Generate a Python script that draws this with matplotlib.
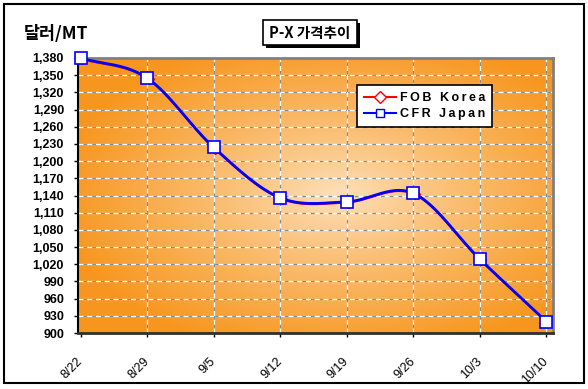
import matplotlib
matplotlib.use("Agg")
import matplotlib.pyplot as plt
import numpy as np
from matplotlib.patches import Rectangle
from matplotlib.lines import Line2D

# data
dates = ["8/22", "8/29", "9/5", "9/12", "9/19", "9/26", "10/3", "10/10"]
cfr_japan = [1380, 1345, 1224, 1136, 1129, 1144, 1029, 920]
fob_korea = [1378, 1343, 1222, 1134, 1127, 1142, 1027, 919]
yticks = list(range(900, 1381, 30))
legend_labels = ["FOB Korea", "CFR Japan"]

kr = ["Noto Sans CJK KR", "DejaVu Sans"]
lat = ["Liberation Sans", "DejaVu Sans"]


def smooth(xs, ys, n=30):
    # catmull-rom curve through the points, only for drawing the line smooth
    xs = np.asarray(xs, float)
    ys = np.asarray(ys, float)
    px = np.r_[2 * xs[0] - xs[1], xs, 2 * xs[-1] - xs[-2]]
    py = np.r_[2 * ys[0] - ys[1], ys, 2 * ys[-1] - ys[-2]]
    ox, oy = [], []
    t = np.linspace(0, 1, n)
    for i in range(1, len(px) - 2):
        for p, out in ((px, ox), (py, oy)):
            p0, p1, p2, p3 = p[i - 1], p[i], p[i + 1], p[i + 2]
            out.extend(0.5 * ((2 * p1) + (-p0 + p2) * t
                              + (2 * p0 - 5 * p1 + 4 * p2 - p3) * t ** 2
                              + (-p0 + 3 * p1 - 3 * p2 + p3) * t ** 3))
    return np.array(ox), np.array(oy)


W, H = 588, 389
fig = plt.figure(figsize=(W / 100, H / 100), dpi=100)
fig.patch.set_facecolor("white")

ax = fig.add_axes([78 / W, 1 - 333 / H, 475 / W, 275 / H])
x = np.arange(len(dates))
ax.set_xlim(-0.04, 7.1)
ax.set_ylim(900, 1380)

# radial orange gradient background
gx, gy = np.meshgrid(np.linspace(-1.1, 0.9, 300), np.linspace(-1, 1, 200))
d = np.clip(np.sqrt(gx ** 2 + gy ** 2) / 1.2, 0, 1) ** 0.85
c_in = np.array([253, 226, 190]) / 255
c_out = np.array([247, 150, 30]) / 255
img = c_in[None, None, :] * (1 - d[..., None]) + c_out[None, None, :] * d[..., None]
ax.imshow(img, extent=[-0.04, 7.1, 900, 1380], aspect="auto", zorder=0)

# dashed gridlines: white with grey gaps
for yv in yticks[1:-1]:
    ax.axhline(yv, color="white", lw=0.9, zorder=1)
    ax.axhline(yv, color="#8a8a8a", lw=0.9, ls=(3, (3, 4)), zorder=1)
for xv in x[1:]:
    ax.axvline(xv, color="white", lw=0.9, zorder=1)
    ax.axvline(xv, color="#8a8a8a", lw=0.9, ls=(3, (3, 4)), zorder=1)

sx, sy = smooth(x, fob_korea)
ax.plot(sx, sy, color="red", lw=0.8, zorder=2)
ax.plot(x + 0.02, fob_korea, ls="none", marker="D", ms=5, mfc="white",
        mec="red", mew=1, zorder=2)
sx, sy = smooth(x, cfr_japan)
ax.plot(sx, sy, color="blue", lw=2, zorder=3)
ax.plot(x, cfr_japan, ls="none", marker="s", ms=8, mfc="white",
        mec="blue", mew=1.2, zorder=4, clip_on=False)

ax.set_yticks(yticks)
ax.set_yticklabels([f"{v:,}" for v in yticks], fontfamily=lat,
                   fontweight="bold", fontsize=9)
ax.set_xticks(x)
ax.set_xticklabels(dates, fontfamily=lat, fontsize=9, rotation=45,
                   ha="right", va="center", rotation_mode="anchor")
ax.tick_params(axis="y", length=3, width=1, pad=7)
ax.tick_params(axis="x", length=3, width=1, pad=16)

for s in ("top", "right"):
    ax.spines[s].set_color("#808080")
    ax.spines[s].set_linewidth(2)
ax.spines["left"].set_color("black")
ax.spines["left"].set_linewidth(1.5)
ax.spines["bottom"].set_color("#303030")
ax.spines["bottom"].set_linewidth(2)

# legend (letters spread a little, like the original)
handles = [
    Line2D([], [], color="red", lw=1.5, marker="D", ms=6, mfc="white", mec="red"),
    Line2D([], [], color="blue", lw=1.5, marker="s", ms=6, mfc="white", mec="blue"),
]
spread = ["\u2009".join(lbl) for lbl in legend_labels]
leg = fig.legend(handles, spread, loc="upper left",
                 bbox_to_anchor=(357 / W, 1 - 85 / H), frameon=True,
                 fancybox=False, edgecolor="black", framealpha=1,
                 prop={"family": lat, "weight": "bold", "size": 9},
                 handlelength=2.6, handletextpad=0.3, borderpad=0.55,
                 labelspacing=0.35, borderaxespad=0)
leg.get_frame().set_linewidth(1.2)

# outer border
fig.add_artist(Rectangle((4 / W, 1 - 383 / H), 580 / W, 379 / H,
                         transform=fig.transFigure, fill=False,
                         ec="black", lw=1.5))

# title box with drop shadow
fig.add_artist(Rectangle((266 / W, 1 - 48 / H), 94 / W, 25 / H,
                         transform=fig.transFigure, fc="black", ec="none"))
fig.add_artist(Rectangle((263 / W, 1 - 45 / H), 94 / W, 25 / H,
                         transform=fig.transFigure, fc="white", ec="black", lw=1.2))
fig.text(310 / W, 1 - 33 / H, "P-X 가격추이", family=kr, fontsize=10.5,
         fontweight="bold", ha="center", va="center")

fig.text(24 / W, 1 - 34 / H, "달러/MT", family=kr, fontsize=12.5,
         fontweight="bold", ha="left", va="center")

fig.savefig("out.png", dpi=100)
